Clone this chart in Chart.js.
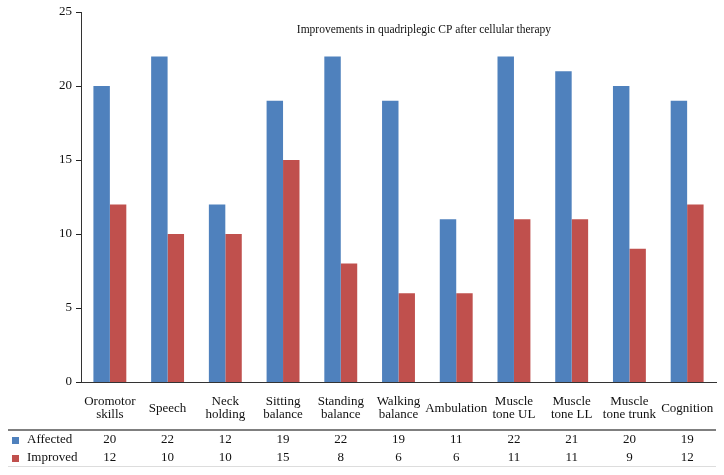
<!DOCTYPE html>
<html>
<head>
<meta charset="utf-8">
<script src="https://cdn.jsdelivr.net/npm/chart.js@4"></script>
<style>
  html, body { margin: 0; padding: 0; background: #fff; }
  #wrap { width: 724px; height: 475px; }
</style>
</head>
<body>
<div id="wrap"><canvas id="grafico"></canvas></div>
<script>
// Datos
const categorias = [
  ["Oromotor", "skills"], "Speech", ["Neck", "holding"], ["Sitting", "balance"],
  ["Standing", "balance"], ["Walking", "balance"], "Ambulation", ["Muscle", "tone UL"],
  ["Muscle", "tone LL"], ["Muscle", "tone trunk"], "Cognition"
];
const afectados = [20, 22, 12, 19, 22, 19, 11, 22, 21, 20, 19];
const mejorados = [12, 10, 10, 15, 8, 6, 6, 11, 11, 9, 12];
const ticksY = [0, 5, 10, 15, 20, 25];

const FUENTE = "'Liberation Serif', 'DejaVu Serif', serif";
const AZUL = "#4f81bd";
const ROJO = "#c0504d";

// Título dentro del área, marcas del eje Y y tabla de datos bajo el eje X
const tablaPlugin = {
  id: "tabla",
  afterDraw(chart) {
    const ctx = chart.ctx;
    const x = chart.scales.x;
    const y = chart.scales.y;
    const area = chart.chartArea;
    ctx.save();

    ctx.strokeStyle = "#222";
    ctx.lineWidth = 1;
    for (const v of ticksY) {
      const py = Math.round(y.getPixelForValue(v)) + 0.5;
      ctx.beginPath(); ctx.moveTo(area.left - 5, py); ctx.lineTo(area.left, py); ctx.stroke();
    }

    ctx.fillStyle = "#111";
    ctx.font = "11.5px " + FUENTE;
    ctx.textAlign = "center";
    ctx.textBaseline = "middle";
    ctx.fillText("Improvements in quadriplegic CP after cellular therapy",
      area.left + area.width * 0.54, 30);

    // líneas de la tabla
    ctx.strokeStyle = "#555";
    ctx.lineWidth = 1.5;
    ctx.beginPath(); ctx.moveTo(8, 430); ctx.lineTo(area.right, 430); ctx.stroke();
    ctx.strokeStyle = "#ddd";
    ctx.lineWidth = 1;
    ctx.beginPath(); ctx.moveTo(8, 466.5); ctx.lineTo(area.right, 466.5); ctx.stroke();

    ctx.font = "13px " + FUENTE;
    const filas = [
      { nombre: "Affected", color: AZUL, datos: afectados, y: 440 },
      { nombre: "Improved", color: ROJO, datos: mejorados, y: 458 },
    ];
    for (const f of filas) {
      ctx.fillStyle = f.color;
      ctx.fillRect(12, f.y - 3, 7, 7);
      ctx.fillStyle = "#111";
      ctx.textAlign = "left";
      ctx.fillText(f.nombre, 27, f.y);
      ctx.textAlign = "center";
      f.datos.forEach((v, i) => ctx.fillText(String(v), x.getPixelForValue(i), f.y));
    }
    ctx.restore();
  }
};

new Chart(document.getElementById("grafico"), {
  type: "bar",
  data: {
    labels: categorias,
    datasets: [
      { label: "Affected", data: afectados, backgroundColor: AZUL, categoryPercentage: 0.57, barPercentage: 1 },
      { label: "Improved", data: mejorados, backgroundColor: ROJO, categoryPercentage: 0.57, barPercentage: 1 },
    ],
  },
  options: {
    responsive: true,
    maintainAspectRatio: false,
    animation: false,
    layout: { padding: { top: 12, right: 8, left: 0, bottom: 0 } },
    plugins: { legend: { display: false }, tooltip: { enabled: false } },
    scales: {
      x: {
        grid: { display: false, drawTicks: false },
        border: { color: "#333", width: 1 },
        ticks: { color: "#111", font: { family: FUENTE, size: 13, lineHeight: 1.0 }, padding: 20, crossAlign: "center", maxRotation: 0, autoSkip: false },
        afterFit(s) { s.height = 93; s.paddingLeft = 0; s.paddingRight = 0; },
      },
      y: {
        min: 0, max: 25,
        afterBuildTicks(s) { s.ticks = ticksY.map((v) => ({ value: v })); },
        grid: { display: false },
        border: { color: "#333", width: 1 },
        ticks: { color: "#111", font: { family: FUENTE, size: 13 }, padding: 1 },
        afterFit(s) { s.width = 81; },
      },
    },
  },
  plugins: [tablaPlugin],
});
</script>
</body>
</html>
